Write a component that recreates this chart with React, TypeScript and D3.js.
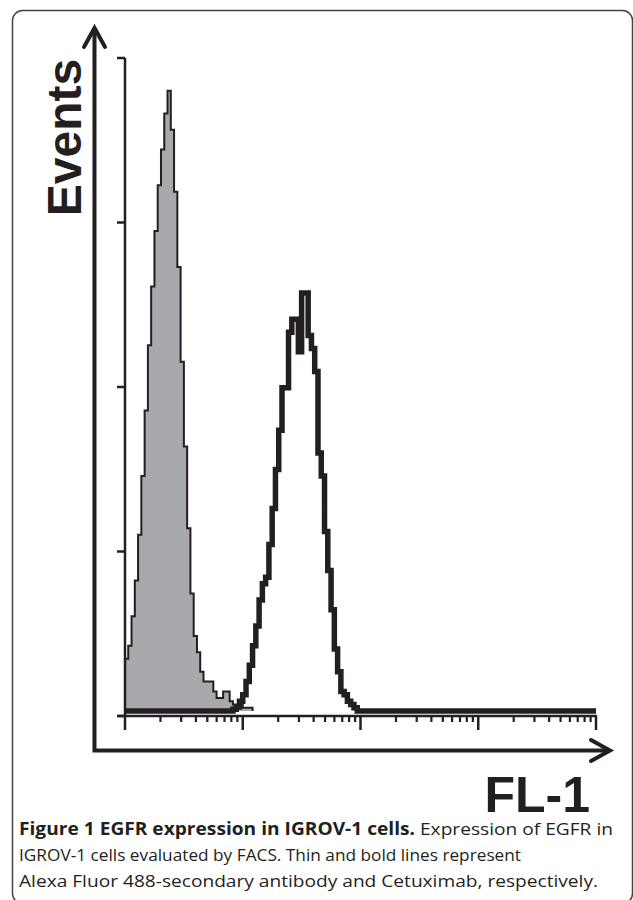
import React from "react";
import * as d3 from "d3";

// Histogram bins: 36 bins per decade over 4 decades (channel 10^0 .. 10^4)
const binsPerDecade = 36;
const decades = 4;
// Thin line (Alexa Fluor 488-secondary antibody), counts starting at bin 0
const grayCounts = [16, 20, 29, 40, 54, 72, 92, 112, 130, 147, 161, 172, 183, 190, 178, 159, 136, 107, 81, 56, 36, 23, 18, 12, 9, 9, 9, 6, 4, 4, 6, 6, 3, 2, 2, 2, 1, 1, 1];
// Bold line (Cetuximab), counts starting at bin 33
const boldStart = 33;
const boldCounts = [0.5, 1.2, 3, 5, 9, 14, 20, 26, 34, 39, 41, 51, 62, 74, 86, 99, 99, 116, 120, 120, 110, 128, 128, 115, 111, 104, 79, 72, 55, 43, 31, 19, 12, 6, 5, 3, 2, 1];
const yTicks = [0, 50, 100, 150, 200];
const majorTicks = [1, 10, 100, 1000, 10000];
const minorMultipliers = [2, 3, 4, 5, 6, 7, 8, 9];

const captionBold = "Figure 1 EGFR expression in IGROV-1 cells.";
const captionLine1 = " Expression of EGFR in";
const captionLine2 = "IGROV-1 cells evaluated by FACS. Thin and bold lines represent";
const captionLine3 = "Alexa Fluor 488-secondary antibody and Cetuximab, respectively.";

const W = 633;
const H = 900;
const ink = "#231f20";

function toSeries(counts: number[], start: number) {
  const total = binsPerDecade * decades;
  const full: number[] = new Array(total).fill(0);
  counts.forEach((c, i) => {
    if (start + i < total) full[start + i] = c;
  });
  const pts = full.map((c, i) => ({ e: Math.pow(10, i / binsPerDecade), v: c }));
  pts.push({ e: Math.pow(10, decades), v: 0 });
  return pts;
}

export default function App() {
  const x = d3.scaleLog().domain([1, 10000]).range([125, 596]);
  const yAxis = d3.scaleLinear().domain([0, 200]).range([716, 58]);
  const yData = d3.scaleLinear().domain([0, 200]).range([711, 58]);

  const gray = toSeries(grayCounts, 0);
  const bold = toSeries(boldCounts, boldStart);

  const area = d3
    .area<{ e: number; v: number }>()
    .x((d) => x(d.e))
    .y0(yData(0))
    .y1((d) => yData(d.v))
    .curve(d3.curveStepAfter);
  const line = d3
    .line<{ e: number; v: number }>()
    .x((d) => x(d.e))
    .y((d) => yData(d.v))
    .curve(d3.curveStepAfter);

  const grayLast = gray.findIndex((d, i) => i > 0 && d.v === 0 && gray[i - 1].v > 0);
  const grayVisible = gray.slice(0, grayLast + 1);

  const minorTicks: number[] = [];
  for (let d = 0; d < decades; d++) minorMultipliers.forEach((m) => minorTicks.push(m * Math.pow(10, d)));

  const axisY = yAxis(0);
  const arrowX = 94.5;
  const arrowY = 750.5;

  return (
    <svg width={W} height={H} style={{ position: "absolute", left: 0, top: 0 }}>
      <rect x={0} y={0} width={W} height={H} fill="#fff" />
      <rect x={12.5} y={10.5} width={620} height={893} rx={10} ry={10} fill="none" stroke="#444" strokeWidth={1.5} />

      {/* histograms */}
      <path d={area(grayVisible) || ""} fill="#a7a9ac" stroke="none" />
      <path d={line(grayVisible) || ""} fill="none" stroke={ink} strokeWidth={2} />
      <path d={line(bold) || ""} fill="none" stroke={ink} strokeWidth={5.5} strokeLinejoin="miter" />

      {/* inner y axis */}
      <line x1={x(1)} x2={x(1)} y1={yAxis(200)} y2={axisY} stroke={ink} strokeWidth={2.5} />
      {yTicks.map((t) => (
        <line key={"yt" + t} x1={x(1) - 8} x2={x(1)} y1={yAxis(t)} y2={yAxis(t)} stroke={ink} strokeWidth={2.5} />
      ))}
      {/* inner x axis */}
      <line x1={x(1) - 8} x2={x(10000) + 1} y1={axisY} y2={axisY} stroke={ink} strokeWidth={2.5} />
      {majorTicks.map((t) => (
        <line key={"mt" + t} x1={x(t)} x2={x(t)} y1={axisY} y2={axisY + 14} stroke={ink} strokeWidth={2.5} />
      ))}
      {minorTicks.map((t) => (
        <line key={"nt" + t} x1={x(t)} x2={x(t)} y1={axisY} y2={axisY + 6} stroke={ink} strokeWidth={2.2} />
      ))}

      {/* outer arrows */}
      <path d={`M${arrowX},28 L${arrowX},${arrowY} L608,${arrowY}`} fill="none" stroke={ink} strokeWidth={4} />
      <path d={`M84,47 L${arrowX},28 L105,47`} fill="none" stroke={ink} strokeWidth={4} strokeLinecap="round" />
      <path d={`M591,740 L610,${arrowY} L591,761`} fill="none" stroke={ink} strokeWidth={4} strokeLinecap="round" />

      {/* axis titles */}
      <text
        transform={`translate(81,137.5) rotate(-90)`}
        textAnchor="middle"
        fontFamily="'Liberation Sans', Arial, sans-serif"
        fontWeight="bold"
        fontSize={48}
        fill={ink}
      >
        Events
      </text>
      <text x={590} y={812} textAnchor="end" fontFamily="'Liberation Sans', Arial, sans-serif" fontWeight="bold" fontSize={50} fill={ink}>
        FL-1
      </text>

      {/* caption */}
      <g fontFamily="'Open Sans', sans-serif" fontSize={17} fill="#231f20">
        <text x={19} y={835} textLength={594} lengthAdjust="spacingAndGlyphs">
          <tspan fontWeight="bold">{captionBold}</tspan>
          <tspan>{captionLine1}</tspan>
        </text>
        <text x={19} y={861} textLength={502} lengthAdjust="spacingAndGlyphs">
          {captionLine2}
        </text>
        <text x={19} y={887} textLength={579} lengthAdjust="spacingAndGlyphs">
          {captionLine3}
        </text>
      </g>
    </svg>
  );
}
